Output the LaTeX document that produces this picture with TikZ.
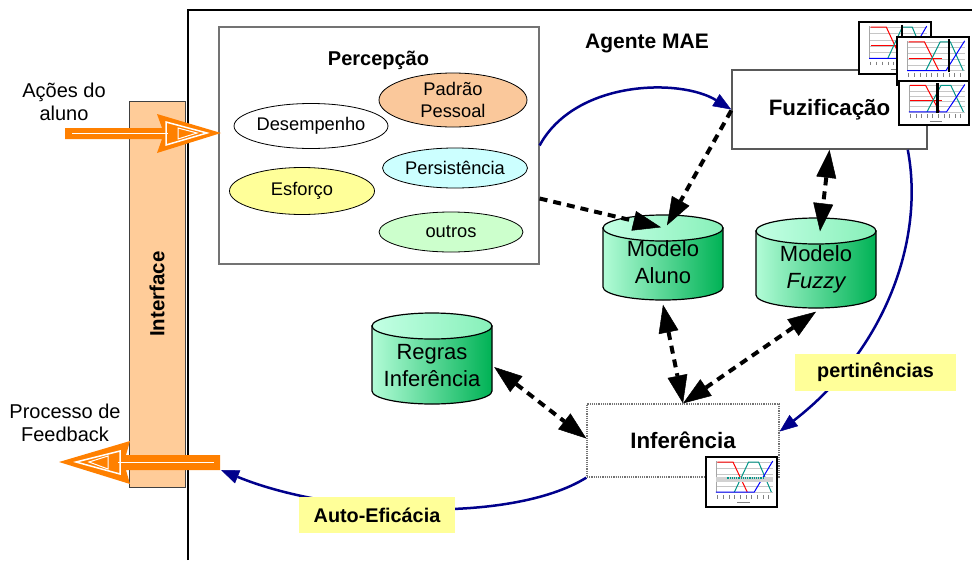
\documentclass[tikz,border=0pt]{standalone}
\usepackage{fontspec}
\setmainfont{Liberation Sans}
\usetikzlibrary{arrows.meta,calc,shapes.geometric}

\definecolor{navyline}{RGB}{0,0,140}
\definecolor{orangearr}{RGB}{255,128,0}
\definecolor{peach}{RGB}{255,204,153}
\definecolor{padrao}{RGB}{250,200,155}
\definecolor{lcyan}{RGB}{204,255,255}
\definecolor{lyellow}{RGB}{255,255,153}
\definecolor{lgreen}{RGB}{204,255,204}
\definecolor{cylL}{RGB}{178,252,215}
\definecolor{cylR}{RGB}{0,178,85}
\definecolor{cylTopL}{RGB}{195,255,228}
\definecolor{cylTopR}{RGB}{135,240,185}
\definecolor{tealc}{RGB}{0,150,136}

\newcommand{\minichart}[5]{%
\begin{scope}[shift={(#1,#2)},x=#3pt,y=-#4pt]
\draw[line width=1.4pt, fill=white] (0,0) rectangle (1,1);
\foreach \g in {0.1,0.22,0.34,0.46,0.58,0.7}{\draw[gray!45,line width=0.3pt] (0.14,\g) -- (0.94,\g);}
\draw[gray!70,line width=0.4pt] (0.14,0.08) -- (0.14,0.7);
\draw[red, line width=1pt] (0.16,0.1) -- (0.38,0.1) -- (0.58,0.7);
\draw[red, line width=1pt] (0.16,0.45) -- (0.62,0.45);
\draw[tealc, line width=1pt] (0.4,0.7) -- (0.6,0.1) -- (0.74,0.1) -- (0.92,0.7);
\draw[blue, line width=1pt] (0.14,0.7) -- (0.68,0.7) -- (0.94,0.08);
\foreach \t in {0.16,0.24,...,0.95}{\draw[gray,line width=0.3pt] (\t,0.76) -- (\t,0.83);}
\draw[gray, line width=0.6pt] (0.44,0.91) -- (0.62,0.91);
#5
\end{scope}}

\newcommand{\cylshape}[3]{%
\shadedraw[left color=cylL, right color=cylR, line width=1.2pt] ({#1-60},{#2+13}) -- ({#1-60},{#3-13}) arc[start angle=180, end angle=0, x radius=60, y radius=13] -- ({#1+60},{#2+13}) -- cycle;
\shadedraw[left color=cylTopL, right color=cylTopR, line width=1.2pt] (#1,{#2+13}) ellipse [x radius=60, y radius=13];}

\begin{document}
\begin{tikzpicture}[x=1pt,y=-1pt,
  ell/.style={ellipse, draw=black, line width=0.8pt, inner sep=0pt, align=center, font=\fontsize{18.3}{22}\selectfont},
  lbl/.style={fill=lyellow, inner sep=0pt, font=\bfseries\fontsize{19.8}{23}\selectfont},
  cyltext/.style={inner sep=0pt, minimum width=120pt, minimum height=85pt, align=center, font=\fontsize{22}{27}\selectfont},
  bluearr/.style={navyline, line width=2.5pt, -{Triangle[length=18pt,width=14pt,line width=0.5pt]}},
  darr/.style={line width=4pt, dash pattern=on 8pt off 6pt, -{Triangle[length=28pt,width=20pt,line width=0.5pt]}},
  ddarr/.style={line width=4pt, dash pattern=on 8pt off 6pt, {Triangle[length=28pt,width=20pt,line width=0.5pt]}-{Triangle[length=28pt,width=20pt,line width=0.5pt]}},
  plain/.style={align=center, font=\fontsize{20}{22.5}\selectfont}]
\useasboundingbox (0,0) rectangle (972,560);
\fill[white] (0,0) rectangle (972,560);

% outer agent box
\draw[line width=1.2pt] (188,560) -- (188,10) -- (972,10);

% interface bar
\node[draw=black!75, line width=1pt, fill=peach, rotate=90, minimum width=386pt, minimum height=56pt, inner sep=0pt, font=\bfseries\fontsize{20.5}{24}\selectfont] (iface) at (157,294) {Interface};

% perception box
\node[draw=black!55, line width=1.2pt, fill=white, minimum width=320pt, minimum height=237pt, inner sep=0pt] (perc) at (379,145.5) {};
\node[font=\bfseries\fontsize{20}{23}\selectfont] (perctitle) at (378.5,60) {Percepção};
\node[ell, fill=white, minimum width=147pt, minimum height=45pt] (desemp) at (311,126) {Desempenho};
\node[ell, fill=padrao, minimum width=148pt, minimum height=54pt] (padrao) at (453,100) {Padrão\\Pessoal};
\node[ell, fill=lcyan, minimum width=145pt, minimum height=40pt] (persist) at (455,168) {Persistência};
\node[ell, fill=lyellow, minimum width=145pt, minimum height=47pt] (esforco) at (302,191) {Esforço};
\node[ell, fill=lgreen, minimum width=144pt, minimum height=40pt] (outros) at (451,232) {outros};

% agent title
\node[font=\bfseries\fontsize{21}{24}\selectfont] (agente) at (647,43) {Agente MAE};

% fuzification box
\node[draw=black!65, line width=1.5pt, fill=white, minimum width=195pt, minimum height=79pt, inner sep=0pt, font=\bfseries\fontsize{22.3}{26}\selectfont] (fuz) at (829.5,109.5) {Fuzificação};
\minichart{859}{22}{72}{52}{\draw[line width=2.2pt] (0.6,0.05) -- (0.6,0.72);}
\minichart{897}{37}{72}{48}{\draw[line width=2.2pt] (0.72,0.05) -- (0.72,0.72);}
\minichart{899}{81}{70}{44}{\draw[line width=2.2pt] (0.55,0.05) -- (0.55,0.72);}

% cylinders
\cylshape{663}{215}{300}
\node[cyltext] (ma) at (663,262) {Modelo\\Aluno};
\cylshape{816}{218}{308}
\node[cyltext] (mf) at (816,269) {Modelo\\{\itshape Fuzzy}};
\cylshape{432}{313}{404}
\node[cyltext, minimum width=122pt] (rg) at (432,366) {Regras\\Inferência};

% inference box
\node[draw=black!55, line width=1.2pt, densely dotted, fill=white, minimum width=192pt, minimum height=73pt, inner sep=0pt, font=\bfseries\fontsize{22.3}{26}\selectfont] (inf) at (683,440.5) {Inferência};
\minichart{706}{457}{71}{50}{\fill[gray!35] (0.14,0.4) rectangle (0.94,0.5); \draw[tealc, line width=1.2pt, densely dotted] (0.3,0.42) -- (0.8,0.42);}

% blue flow arrows
\coordinate (fbend) at (221,470);
\draw[bluearr] (perc.east) .. controls (575,80) and (680,78) .. (fuz.west);
\draw[bluearr] ($(fuz.south east)+(-20,0)$) .. controls (925,240) and (885,350) .. ($(inf.east)+(0,-9)$);
\draw[bluearr] (inf.south west) .. controls (510,525) and (330,515) .. (fbend);

% dashed data arrows
\draw[darr] ($(perc.east)+(0,53)$) -- ($(ma.north)+(-2,8)$);
\draw[darr] ($(fuz.west)+(0,1)$) -- ($(ma.north)+(4,6)$);
\draw[ddarr] (fuz.south) -- ($(mf.north)+(4,5)$);
\draw[ddarr] (ma.south) -- (inf.north);
\draw[ddarr] (mf.south) -- (inf.north);
\draw[ddarr] ($(rg.east)+(1,1)$) -- ($(inf.west)+(0,-2)$);

% labels
\node[lbl, minimum width=161pt, minimum height=37pt] (pert) at (875.5,372.5) {pertinências};
\node[lbl, minimum width=156pt, minimum height=36pt] (auto) at (377,515) {Auto-Eficácia};

% orange input/output arrows
\fill[orangearr] (65,128) -- (162,128) -- (157,114) -- (221,133) -- (157,153) -- (162,139) -- (65,139) -- cycle;
\draw[white, line width=1.5pt] (72,133.5) -- (168,133.5);
\draw[white, line width=1.5pt] (166,122) -- (207,133) -- (166,145) -- cycle;
\draw[white, line width=1pt] (178,128) -- (197,133) -- (178,139) -- cycle;

\fill[orangearr] (220,455) -- (126,455) -- (130,441) -- (59,462) -- (130,484) -- (126,470) -- (220,470) -- cycle;
\draw[white, line width=1.5pt] (214,462.5) -- (118,462.5);
\draw[white, line width=1.5pt] (120,451) -- (76,462) -- (120,474) -- cycle;
\draw[white, line width=1pt] (108,456) -- (89,462) -- (108,469) -- cycle;

% side texts
\node[plain] (acoes) at (64,102) {Ações do\\aluno};
\node[plain] (feedback) at (65,423) {Processo de\\Feedback};
\end{tikzpicture}
\end{document}
